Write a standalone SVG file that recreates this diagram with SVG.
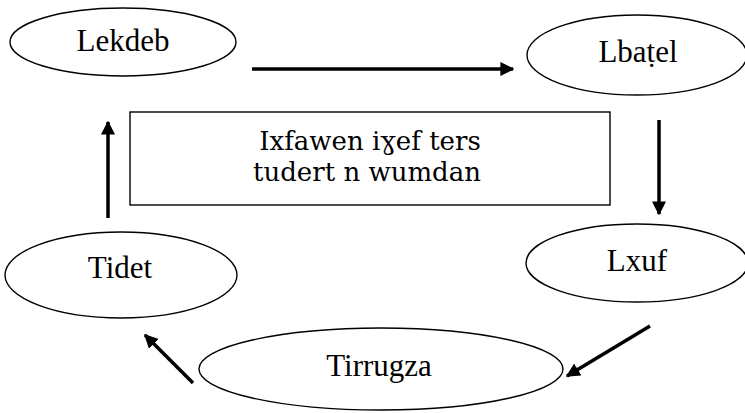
<svg xmlns="http://www.w3.org/2000/svg" width="745" height="413" viewBox="0 0 745 413">
<defs>
<style>
.n{fill:#fff;stroke:#000;stroke-width:1.4}
.t{font-family:"Liberation Serif",serif;font-size:31px;fill:#000;text-anchor:middle}
.b{font-family:"DejaVu Serif","Liberation Serif",serif;font-size:26px;fill:#000;text-anchor:middle}
.c{stroke:#000;stroke-width:3.5;fill:none;marker-end:url(#ah)}
</style>
<marker id="ah" viewBox="0 0 10 10" refX="9" refY="5" markerWidth="4" markerHeight="4" markerUnits="strokeWidth" orient="auto">
<path d="M0,0 L10,5 L0,10 z" fill="#000"/>
</marker>
</defs>
<rect width="745" height="413" fill="#fff"/>
<g id="connectors">
<line class="c" x1="252" y1="69" x2="513" y2="69"/>
<line class="c" x1="659" y1="120" x2="659" y2="214"/>
<line class="c" x1="650" y1="326" x2="567" y2="376"/>
<line class="c" x1="193" y1="383" x2="145" y2="335"/>
<line class="c" x1="108" y1="218" x2="108" y2="122"/>
</g>
<g id="lekdeb">
<ellipse class="n" cx="123" cy="42" rx="113" ry="34"/>
<text class="t" x="123" y="51">Lekdeb</text>
</g>
<g id="lbatel">
<ellipse class="n" cx="637" cy="55" rx="110" ry="40"/>
<text class="t" x="638" y="62">Lbaṭel</text>
</g>
<g id="box">
<rect class="n" x="130" y="112" width="480" height="93"/>
<text class="b" x="370" y="150">Ixfawen iɣef ters</text>
<text class="b" x="367" y="181">tudert n wumdan</text>
</g>
<g id="lxuf">
<ellipse class="n" cx="637" cy="263" rx="111" ry="39"/>
<text class="t" x="637" y="271">Lxuf</text>
</g>
<g id="tidet">
<ellipse class="n" cx="121" cy="275" rx="116" ry="43"/>
<text class="t" x="120" y="278">Tidet</text>
</g>
<g id="tirrugza">
<ellipse class="n" cx="381" cy="369" rx="182" ry="41"/>
<text class="t" x="379" y="376">Tirrugza</text>
</g>
</svg>
